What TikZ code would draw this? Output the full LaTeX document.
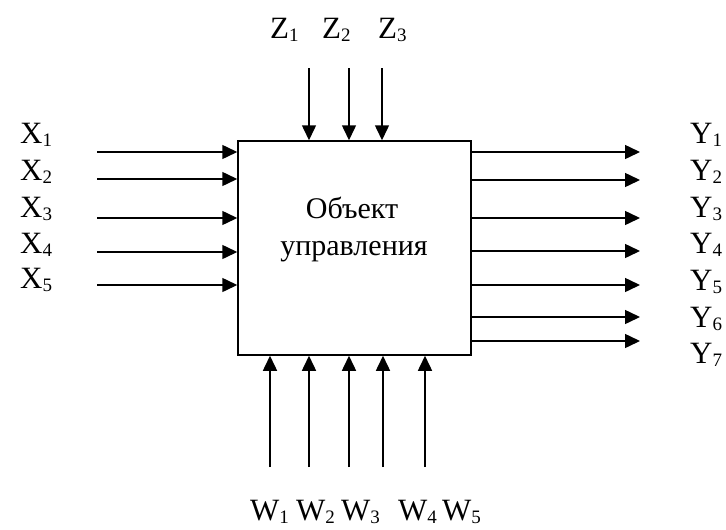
\documentclass[tikz,border=0pt]{standalone}
\usepackage{fontspec}
\setmainfont{Liberation Serif}
\usetikzlibrary{arrows.meta}
\newcommand\sbs[1]{\raisebox{-3pt}{\fontsize{19}{19}\selectfont #1}}
\tikzset{
  lbl/.style={anchor=base west, inner sep=0pt, font=\fontsize{31}{36}\selectfont},
  arr/.style={line width=1.5pt, -{Triangle[length=15pt,width=14pt]}},
  obj/.style={draw, line width=1.5pt, minimum width=233pt, minimum height=214pt, inner sep=0pt},
  objtext/.style={anchor=base, inner sep=0pt, font=\fontsize{30}{37}\selectfont}
}
\begin{document}
\begin{tikzpicture}[x=1pt,y=-1pt]
\useasboundingbox (0,0) rectangle (726,530);
\node[obj] (box) at (354.5,248) {};
\node[objtext] (t1) at (352,218) {Объект};
\node[objtext] (t2) at (354,255) {управления};
% X inputs
\foreach \i/\y/\b in {1/152/143,2/179/180,3/218/217,4/252/253,5/285/288}{
  \node[lbl] (x\i) at (20,\b) {X\sbs{\i}};
  \coordinate (xs\i) at (97,\y);
  \draw[arr] (xs\i) -- (xs\i -| box.west);
}
% Y outputs
\foreach \i/\y/\b in {1/152/143,2/180/180,3/218/217,4/251/253,5/285/290,6/317/327,7/341/363}{
  \node[lbl] (y\i) at (690,\b) {Y\sbs{\i}};
  \coordinate (ye\i) at (640,\y);
  \draw[arr] (ye\i -| box.east) -- (ye\i);
}
% Z inputs
\foreach \i/\x/\l in {1/309/270,2/349/322,3/382/378}{
  \node[lbl] (z\i) at (\l,38) {Z\sbs{\i}};
  \coordinate (zs\i) at (\x,68);
  \draw[arr] (zs\i) -- (zs\i |- box.north);
}
% W inputs
\foreach \i/\x/\l in {1/270/250,2/309/296,3/349/341,4/383/398,5/425/442}{
  \node[lbl] (w\i) at (\l,520) {W\sbs{\i}};
  \coordinate (ws\i) at (\x,467);
  \draw[arr] (ws\i) -- (ws\i |- box.south);
}
\end{tikzpicture}
\end{document}
